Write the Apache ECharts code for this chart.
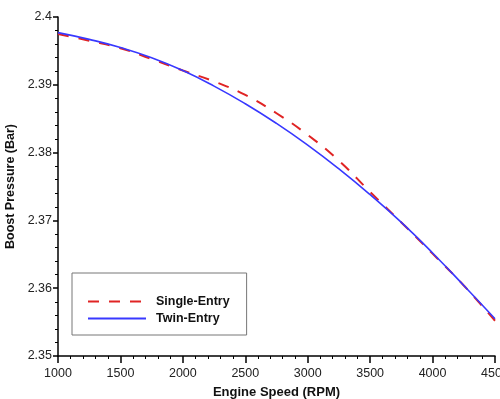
<!DOCTYPE html>
<html>
<head>
<meta charset="utf-8">
<script src="https://cdn.jsdelivr.net/npm/echarts@6/dist/echarts.min.js"></script>
<style>html,body{margin:0;padding:0;background:#fff;}#c{width:500px;height:399px;}</style>
</head>
<body>
<div id="c"></div>
<script>
const rpm = [1000,1250,1500,1750,2000,2250,2500,2750,3000,3250,3500,3750,4000,4250,4500];
const singleEntry = [2.3975,2.3965,2.3954,2.3938,2.3921,2.3905,2.3885,2.3858,2.3826,2.3788,2.3742,2.3697,2.3651,2.3604,2.3552];
const twinEntry = [2.3977,2.3967,2.3955,2.3940,2.3921,2.3898,2.3872,2.3843,2.3811,2.3776,2.3738,2.3697,2.3652,2.3604,2.3555];
const xTitle = 'Engine Speed (RPM)';
const yTitle = 'Boost Pressure (Bar)';

const chart = echarts.init(document.getElementById('c'), null, {renderer:'canvas'});
const font = 'Liberation Sans, Arial, sans-serif';
chart.setOption({
  animation:false,
  backgroundColor:'#fff',
  grid:{left:58,right:5,top:17,bottom:43,containLabel:false,outerBoundsMode:'none'},
  xAxis:{
    type:'value',min:1000,max:4500,interval:500,
    name:xTitle,nameLocation:'middle',nameGap:30,
    nameTextStyle:{fontFamily:font,fontWeight:'bold',fontSize:13,color:'#111'},
    axisLine:{lineStyle:{color:'#000',width:1.5}},
    axisTick:{inside:false,length:7,lineStyle:{color:'#000',width:1.5}},
    minorTick:{show:true,splitNumber:5,length:3,lineStyle:{color:'#000',width:1}},
    axisLabel:{fontFamily:font,fontSize:12.5,color:'#222',margin:11,hideOverlap:false,
      formatter:v=>String(Math.round(v))},
    splitLine:{show:false}
  },
  yAxis:{
    type:'value',min:2.35,max:2.40,interval:0.01,
    name:yTitle,nameLocation:'middle',nameGap:40,nameRotate:90,
    nameTextStyle:{fontFamily:font,fontWeight:'bold',fontSize:12.5,color:'#111'},
    axisLine:{show:true,lineStyle:{color:'#000',width:1.5}},
    axisTick:{show:true,inside:false,length:5,lineStyle:{color:'#000',width:1.5}},
    minorTick:{show:true,splitNumber:5,length:3,lineStyle:{color:'#000',width:1}},
    axisLabel:{fontFamily:font,fontSize:12.5,color:'#222',margin:6,
      formatter:v=>parseFloat(v.toFixed(2)).toString()},
    splitLine:{show:false}
  },
  legend:{
    orient:'vertical',left:72,top:273,
    padding:[22,17,10,15],itemGap:4,itemWidth:58,itemHeight:14,
    borderColor:'#777',borderWidth:1,
    itemStyle:{opacity:0},
    textStyle:{fontFamily:font,fontWeight:'bold',fontSize:12.5,color:'#111',padding:[0,0,0,5]},
    data:['Single-Entry','Twin-Entry']
  },
  series:[
    {name:'Single-Entry',type:'line',smooth:true,symbol:'none',
     data:rpm.map((r,i)=>[r,singleEntry[i]]),
     lineStyle:{color:'#e02424',width:2,type:[11,10]},itemStyle:{color:'#e02424'},z:2},
    {name:'Twin-Entry',type:'line',smooth:true,symbol:'none',
     data:rpm.map((r,i)=>[r,twinEntry[i]]),
     lineStyle:{color:'#3838ff',width:1.6},itemStyle:{color:'#3838ff'},z:3}
  ]
});
</script>
</body>
</html>
